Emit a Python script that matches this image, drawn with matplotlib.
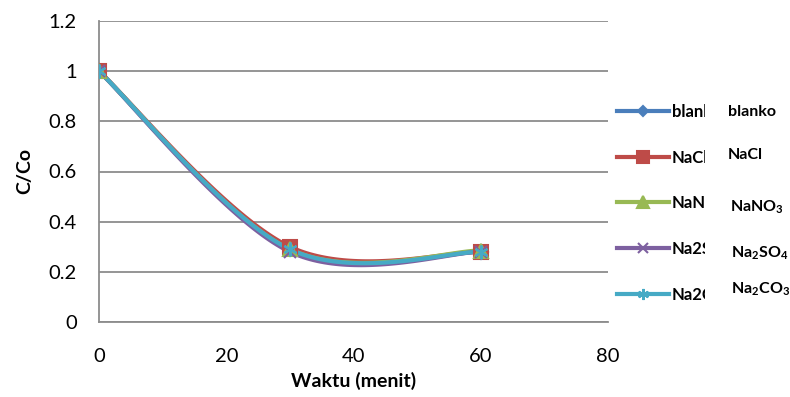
import numpy as np
import matplotlib
matplotlib.use("Agg")
import matplotlib.pyplot as plt
from matplotlib.transforms import Bbox, TransformedBbox

plt.rcParams['font.family'] = ['Lato', 'DejaVu Sans']
plt.rcParams['mathtext.fontset'] = 'custom'
plt.rcParams['mathtext.rm'] = 'Lato:bold'
plt.rcParams['mathtext.default'] = 'rm'

# ---- data ----
waktu = [0, 30, 60]
series_names = ["blanko", "NaCl", "NaNO3", "Na2SO4", "Na2CO3"]
side_labels = ["blanko", "NaCl", r"NaNO$_3$", r"Na$_2$SO$_4$", r"Na$_2$CO$_3$"]
blanko = [1.0, 0.29, 0.28]
nacl = [1.0, 0.30, 0.28]
nano3 = [1.0, 0.29, 0.285]
na2so4 = [1.0, 0.28, 0.28]
na2co3 = [1.0, 0.29, 0.28]
values = [blanko, nacl, nano3, na2so4, na2co3]
x_ticks = [0, 20, 40, 60, 80]
y_ticks = [0, 0.2, 0.4, 0.6, 0.8, 1.0, 1.2]
y_ticklabels = ["0", "0.2", "0.4", "0.6", "0.8", "1", "1.2"]

colors = ["#4A7EBB", "#BE4B48", "#98B954", "#7D60A0", "#46AAC5"]
markers = ["D", "s", "^", "x", (6, 2, 0)]
msizes = [7, 10, 10, 9, 10]


def excel_smooth(x, y, n=60):
    pts = np.column_stack([x, y]).astype(float)
    out = []
    for i in range(len(pts) - 1):
        p0 = pts[i - 1] if i > 0 else pts[i]
        p1 = pts[i]
        p2 = pts[i + 1]
        p3 = pts[i + 2] if i + 2 < len(pts) else pts[i + 1]
        c1 = p1 + (p2 - p0) / 6.0
        c2 = p2 - (p3 - p1) / 6.0
        t = np.linspace(0, 1, n)[:, None]
        b = ((1 - t) ** 3) * p1 + 3 * t * (1 - t) ** 2 * c1 + 3 * t ** 2 * (1 - t) * c2 + t ** 3 * p2
        out.append(b if i == 0 else b[1:])
    b = np.vstack(out)
    return b[:, 0], b[:, 1]


fig = plt.figure(figsize=(7.9, 3.97), dpi=100)
ax = fig.add_axes([99 / 790, 75 / 397, 509 / 790, 301 / 397])

handles = []
for name, vals, c, m, ms in zip(series_names, values, colors, markers, msizes):
    sx, sy = excel_smooth(waktu, vals)
    ax.plot(sx, sy, color=c, lw=3, solid_capstyle='round', zorder=3)
    ax.plot(waktu, vals, linestyle='none', marker=m, ms=ms, color=c,
            markeredgecolor=c, mew=1.5, zorder=4)
    h, = ax.plot([], [], color=c, lw=3, marker=m, ms=ms * 0.8, mew=1.5,
                 markeredgecolor=c, label=name)
    handles.append(h)

ax.set_xlim(0, 80)
ax.set_ylim(0, 1.2)
ax.set_xticks(x_ticks)
ax.set_yticks(y_ticks)
ax.set_yticklabels(y_ticklabels)
ax.tick_params(axis='both', length=0, labelsize=14.5, colors='black')
ax.tick_params(axis='x', pad=19)
ax.tick_params(axis='y', pad=16)
ax.grid(axis='y', color='#8C8C8C', lw=1.3)
ax.set_axisbelow(True)
for s in ['top', 'right']:
    ax.spines[s].set_visible(False)
for s in ['left', 'bottom']:
    ax.spines[s].set_color('#8C8C8C')
    ax.spines[s].set_linewidth(1.3)

ax.set_xlabel("Waktu (menit)", fontsize=14, fontweight='bold')
ax.xaxis.set_label_coords(0.5, (322 - 381) / 301)
ax.xaxis.label.set_verticalalignment('center')
ax.set_ylabel("C/Co", fontsize=14, fontweight='bold')
ax.yaxis.set_label_coords((25 - 99) / 509, 0.5)
ax.yaxis.label.set_verticalalignment('center')

leg = fig.legend(handles=handles, loc='upper left',
                 bbox_to_anchor=(617 / 790, 1 - 104 / 397),
                 frameon=False, prop={'weight': 'bold', 'size': 12},
                 handlelength=3.1, handletextpad=0.2, labelspacing=1.78,
                 borderaxespad=0, borderpad=0)
clip = TransformedBbox(Bbox([[0, 0], [705 / 790, 1]]), fig.transFigure)
for t in leg.get_texts():
    t.set_clip_on(True)
    t.set_clip_box(clip)

side_y = [112, 155, 207, 253, 289]
side_x = [728, 728, 730, 731, 731]
for lab, yy, xx in zip(side_labels, side_y, side_x):
    fig.text(xx / 790, 1 - yy / 397, lab, fontsize=11.5, fontweight='bold',
             ha='left', va='center')

fig.savefig("out.png", dpi=100)
